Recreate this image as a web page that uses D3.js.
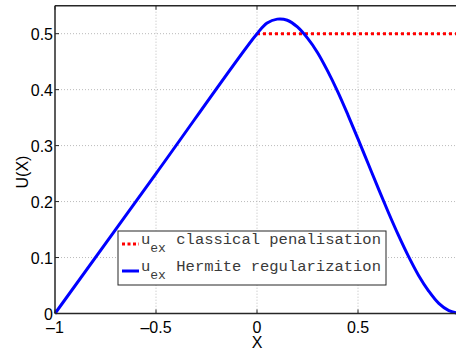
<!DOCTYPE html>
<html>
<head>
<meta charset="utf-8">
<script src="https://cdn.jsdelivr.net/npm/d3@7"></script>
<style>
  body { margin: 0; background: #fff; }
  text { font-family: "Liberation Sans", Arial, sans-serif; }
</style>
</head>
<body>
<div id="chart"></div>
<script>
// values
var xTicks = [-1, -0.5, 0, 0.5];
var yTicks = [0, 0.1, 0.2, 0.3, 0.4, 0.5];

var hermiteX = [-1, -0.5, 0, 0.05, 0.1, 0.15, 0.2, 0.25, 0.3, 0.35, 0.4, 0.45, 0.5,
                0.55, 0.6, 0.65, 0.7, 0.75, 0.8, 0.85, 0.9, 0.95, 1];
var hermiteY = [0, 0.25, 0.5, 0.519, 0.526, 0.524, 0.512, 0.492, 0.466, 0.433, 0.396, 0.355, 0.312,
                0.268, 0.224, 0.181, 0.14, 0.102, 0.068, 0.04, 0.018, 0.005, 0];

var classicX = [0, 1];
var classicY = [0.5, 0.5];

var legendNames = ["classical penalisation", "Hermite regularization"];

var W = 456, H = 352;
var pLeft = 55, pRight = 459, pTop = 5.7, pBottom = 313.5;

var svg = d3.select("#chart").append("svg")
  .attr("width", W)
  .attr("height", H);

var x = d3.scaleLinear().domain([-1, 1]).range([pLeft, pRight]);
var y = d3.scaleLinear().domain([0, 0.55]).range([pBottom, pTop]);

// grid
xTicks.forEach(function(t) {
  if (t == -1) return;
  svg.append("line")
    .attr("x1", x(t)).attr("x2", x(t))
    .attr("y1", pTop).attr("y2", pBottom)
    .style("stroke", "#bbb").style("stroke-width", 1)
    .style("stroke-dasharray", "1,2");
});
yTicks.forEach(function(t) {
  if (t == 0) return;
  svg.append("line")
    .attr("x1", pLeft).attr("x2", W)
    .attr("y1", y(t)).attr("y2", y(t))
    .style("stroke", "#bbb").style("stroke-width", 1)
    .style("stroke-dasharray", "1,2");
});

// curves
var line = d3.line()
  .x(function(d) { return x(d[0]); })
  .y(function(d) { return y(d[1]); });

svg.append("path")
  .datum(d3.zip(classicX, classicY))
  .attr("d", line)
  .style("fill", "none")
  .style("stroke", "#ff0000")
  .style("stroke-width", 3)
  .style("stroke-dasharray", "3,3");

svg.append("path")
  .datum(d3.zip(hermiteX, hermiteY))
  .attr("d", line.curve(d3.curveCatmullRom))
  .style("fill", "none")
  .style("stroke", "#0000ff")
  .style("stroke-width", 3);

// axes box
var frame = "#262626";
svg.append("line").attr("x1", pLeft).attr("x2", W).attr("y1", pTop).attr("y2", pTop)
  .style("stroke", frame).style("stroke-width", 1.5);
svg.append("line").attr("x1", pLeft).attr("x2", W).attr("y1", pBottom).attr("y2", pBottom)
  .style("stroke", frame).style("stroke-width", 1.5);
svg.append("line").attr("x1", pLeft).attr("x2", pLeft).attr("y1", pTop).attr("y2", pBottom)
  .style("stroke", frame).style("stroke-width", 1.5);

// tick marks (inside) and labels
xTicks.forEach(function(t) {
  svg.append("line").attr("x1", x(t)).attr("x2", x(t))
    .attr("y1", pBottom).attr("y2", pBottom - 4)
    .style("stroke", frame).style("stroke-width", 1);
  svg.append("line").attr("x1", x(t)).attr("x2", x(t))
    .attr("y1", pTop).attr("y2", pTop + 4)
    .style("stroke", frame).style("stroke-width", 1);
  svg.append("text")
    .text(String(t).replace("-", "\u2013"))
    .attr("x", x(t))
    .attr("y", 333)
    .attr("text-anchor", "middle")
    .style("font-size", "16px")
    .style("fill", "#000");
});
yTicks.forEach(function(t) {
  svg.append("line").attr("x1", pLeft).attr("x2", pLeft + 4)
    .attr("y1", y(t)).attr("y2", y(t))
    .style("stroke", frame).style("stroke-width", 1);
  svg.append("text")
    .text(t)
    .attr("x", 53)
    .attr("y", y(t) + 6)
    .attr("text-anchor", "end")
    .style("font-size", "16px")
    .style("fill", "#000");
});

svg.append("text").text("X")
  .attr("x", x(0)).attr("y", 348)
  .attr("text-anchor", "middle")
  .style("font-size", "16px");

svg.append("text").text("U(X)")
  .attr("transform", "translate(28,172) rotate(-90)")
  .attr("text-anchor", "middle")
  .style("font-size", "16px");

// legend
var lg = svg.append("g");
lg.append("rect")
  .attr("x", 118).attr("y", 231)
  .attr("width", 268).attr("height", 54)
  .style("fill", "#fff")
  .style("stroke", frame).style("stroke-width", 1);

var legendStyles = [
  {color: "#ff0000", dash: "3,2.5"},
  {color: "#0000ff", dash: null}
];

legendNames.forEach(function(name, i) {
  var yy = 244 + i * 27;
  lg.append("line")
    .attr("x1", 122).attr("x2", 139)
    .attr("y1", yy).attr("y2", yy)
    .style("stroke", legendStyles[i].color)
    .style("stroke-width", 3)
    .style("stroke-dasharray", legendStyles[i].dash);
  var t = lg.append("text")
    .attr("x", 141)
    .attr("y", yy - 0.5)
    .style("font-family", "'Liberation Mono', 'DejaVu Sans Mono', monospace")
    .style("font-size", "15.5px")
    .style("fill", "#3a3a3a");
  t.append("tspan").text("u");
  t.append("tspan").text("ex").attr("dy", 8).style("font-size", "13px");
  t.append("tspan").text(" " + name).attr("x", 167).attr("dy", -8);
});
</script>
</body>
</html>
